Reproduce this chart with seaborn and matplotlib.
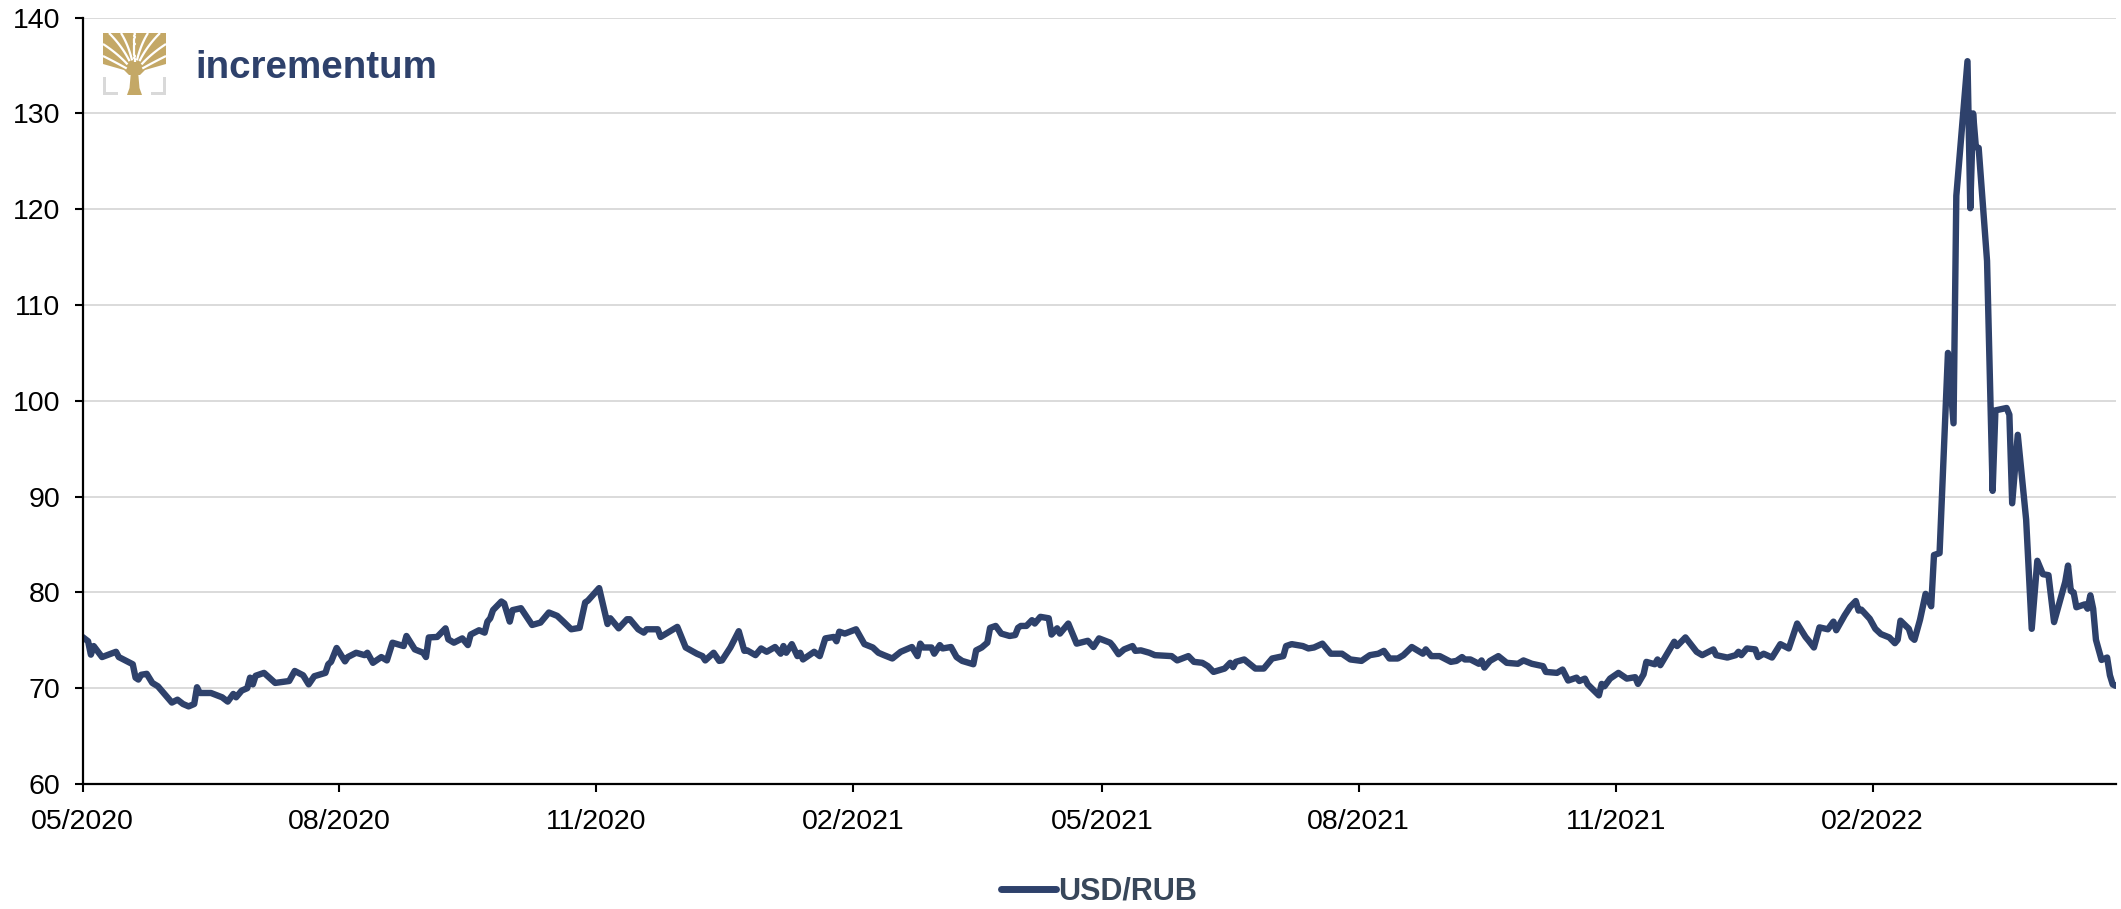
import numpy as np
import pandas as pd
import matplotlib
matplotlib.use("Agg")
import matplotlib.pyplot as plt
from matplotlib.lines import Line2D
from matplotlib.patches import Polygon, Rectangle
import seaborn as sns

# ---- data -------------------------------------------------------------
start_date = "2020-05-01"

# observation dates, as days after start_date
day_offset = [
    0, 2, 3, 4, 7, 12, 13, 18, 19, 20, 21, 23, 25, 27, 32, 34, 36, 38, 40, 41,
    42, 46, 50, 52, 54, 55, 57, 59, 60, 61, 62, 65, 69, 74, 76, 79, 81, 83, 87, 88,
    89, 91, 94, 95, 98, 101, 102, 104, 107, 109, 111, 115, 116, 119, 122, 123, 124, 127, 130, 131,
    133, 136, 138, 139, 142, 144, 145, 146, 147, 150, 151, 153, 154, 157, 161, 164, 167, 170, 172, 175,
    178, 180, 181, 185, 188, 189, 192, 195, 196, 199, 201, 202, 206, 207, 213, 216, 220, 222, 223, 226,
    228, 229, 232, 235, 237, 238, 241, 243, 245, 248, 250, 251, 252, 254, 256, 257, 258, 262, 264, 266,
    269, 270, 271, 273, 277, 280, 283, 285, 287, 290, 293, 297, 299, 300, 301, 304, 305, 307, 308, 311,
    313, 315, 319, 320, 322, 324, 325, 327, 329, 332, 334, 335, 336, 338, 340, 341, 343, 346, 347, 349,
    350, 353, 356, 360, 362, 364, 368, 369, 371, 373, 376, 377, 379, 382, 384, 390, 392, 396, 398, 401,
    403, 405, 409, 411, 412, 413, 416, 420, 423, 426, 430, 431, 433, 437, 439, 441, 444, 447, 451, 454,
    458, 461, 464, 466, 468, 471, 473, 476, 480, 481, 483, 486, 490, 492, 494, 495, 497, 500, 501, 502,
    504, 507, 510, 514, 516, 519, 523, 524, 528, 530, 532, 535, 536, 538, 539, 543, 544, 545, 547, 550,
    553, 556, 557, 559, 560, 563, 564, 565, 570, 571, 574, 578, 580, 584, 585, 589, 592, 593, 594, 596,
    599, 600, 602, 605, 608, 611, 614, 617, 618, 620, 622, 625, 627, 628, 631, 633, 635, 636, 637, 640,
    642, 644, 647, 649, 650, 651, 654, 655, 656, 658, 660, 662, 663, 665, 668, 670, 671, 675, 676, 677,
    678, 679, 682, 684, 685, 689, 690, 691, 693, 696, 698, 700, 702, 704, 706, 710, 711, 712, 713, 714,
    717, 718, 719, 720, 721, 723, 725, 726, 727, 728,
]

usd_rub = [
    75.35, 74.9, 73.5, 74.4, 73.25, 73.8, 73.25, 72.5, 71.1, 70.9, 71.4, 71.5, 70.55, 70.2, 68.5, 68.8, 68.35, 68.1, 68.35, 70.1,
    69.5, 69.5, 69.05, 68.6, 69.4, 69.05, 69.75, 70.0, 71.1, 70.4, 71.3, 71.6, 70.55, 70.75, 71.8, 71.35, 70.4, 71.25, 71.6, 72.5,
    72.75, 74.2, 72.8, 73.25, 73.7, 73.45, 73.7, 72.65, 73.25, 72.9, 74.75, 74.4, 75.45, 74.05, 73.7, 73.25, 75.3, 75.35, 76.25, 75.1,
    74.75, 75.2, 74.5, 75.6, 76.05, 75.8, 76.95, 77.3, 78.15, 79.05, 78.85, 76.95, 78.15, 78.35, 76.6, 76.85, 77.9, 77.55, 77.0, 76.15,
    76.3, 78.95, 79.15, 80.45, 76.7, 77.3, 76.25, 77.2, 77.2, 76.15, 75.8, 76.15, 76.15, 75.35, 76.4, 74.25, 73.6, 73.35, 72.9, 73.7,
    72.85, 72.9, 74.25, 75.95, 73.9, 73.95, 73.45, 74.15, 73.8, 74.3, 73.6, 74.4, 73.7, 74.6, 73.35, 73.7, 73.0, 73.8, 73.35, 75.2,
    75.35, 74.9, 75.9, 75.7, 76.15, 74.6, 74.25, 73.7, 73.45, 73.1, 73.8, 74.3, 73.35, 74.65, 74.25, 74.25, 73.6, 74.5, 74.15, 74.3,
    73.25, 72.85, 72.5, 73.95, 74.25, 74.75, 76.3, 76.5, 75.7, 75.45, 75.55, 76.3, 76.5, 76.5, 77.1, 76.75, 77.45, 77.3, 75.6, 76.25,
    75.7, 76.75, 74.65, 74.95, 74.3, 75.2, 74.75, 74.4, 73.55, 74.05, 74.4, 73.9, 73.95, 73.7, 73.45, 73.35, 72.9, 73.35, 72.75, 72.65,
    72.3, 71.7, 72.05, 72.65, 72.2, 72.75, 73.0, 72.05, 72.05, 73.1, 73.35, 74.4, 74.6, 74.4, 74.15, 74.25, 74.65, 73.6, 73.6, 73.0,
    72.85, 73.45, 73.6, 73.9, 73.1, 73.1, 73.45, 74.3, 73.6, 74.05, 73.35, 73.35, 72.75, 72.85, 73.25, 73.0, 73.0, 72.55, 72.9, 72.15,
    72.85, 73.35, 72.65, 72.55, 72.9, 72.55, 72.3, 71.7, 71.6, 71.95, 70.8, 71.1, 70.75, 71.0, 70.4, 69.25, 70.45, 70.2, 71.0, 71.6,
    71.0, 71.15, 70.45, 71.45, 72.75, 72.5, 73.0, 72.4, 74.85, 74.4, 75.3, 73.8, 73.45, 74.05, 73.45, 73.2, 73.45, 73.8, 73.45, 74.15,
    74.05, 73.25, 73.6, 73.2, 74.6, 74.15, 76.75, 75.35, 75.0, 74.25, 76.35, 76.15, 76.95, 76.05, 77.6, 78.5, 79.1, 78.1, 78.2, 77.25,
    76.2, 75.65, 75.3, 74.7, 75.05, 77.05, 76.2, 75.3, 75.05, 77.15, 79.85, 78.55, 83.9, 84.1, 105.0, 97.65, 121.4, 135.45, 120.1, 130.0,
    126.5, 126.4, 114.6, 90.6, 99.0, 99.25, 98.55, 89.3, 96.45, 87.6, 76.2, 83.3, 81.9, 81.8, 76.9, 81.1, 82.8, 80.15, 80.0, 78.45,
    78.75, 78.3, 79.7, 78.3, 75.05, 72.95, 73.2, 71.35, 70.4, 70.25,
]

x_tick_dates = ["2020-05-01", "2020-08-01", "2020-11-01", "2021-02-01", "2021-05-01",
                "2021-08-01", "2021-11-01", "2022-02-01"]
y_ticks = [60, 70, 80, 90, 100, 110, 120, 130, 140]
series_name = "USD/RUB"
brand_name = "incrementum"

# ---- style ------------------------------------------------------------
LINE_COLOR = "#2e416b"
BRAND_COLOR = "#2e416b"
LEGEND_TEXT = "#38475a"
GOLD = "#c4a866"
BRACKET_GREY = "#d9d9d9"
GRID_GREY = "#d4d4d4"

sns.set_theme(style="white")
plt.rcParams["font.family"] = ["Liberation Sans", "DejaVu Sans"]

W, H = 2121, 909
fig = plt.figure(figsize=(W / 100, H / 100), dpi=100)
fig.patch.set_facecolor("white")

ax_left, ax_right, ax_top, ax_bottom = 82.5, 2115.5, 17.6, 784.0
ax = fig.add_axes([ax_left / W, 1 - ax_bottom / H,
                   (ax_right - ax_left) / W, (ax_bottom - ax_top) / H])

dates = pd.Timestamp(start_date) + pd.to_timedelta(day_offset, unit="D")
df = pd.DataFrame({"date": dates, series_name: usd_rub})

sns.lineplot(data=df, x="date", y=series_name, ax=ax, color=LINE_COLOR,
             linewidth=4.6, legend=False, solid_joinstyle="round",
             solid_capstyle="round")

ax.set_xlim(dates[0], dates[-1])
ax.set_ylim(y_ticks[0], y_ticks[-1])
ax.set_yticks(y_ticks)
xt = pd.to_datetime(x_tick_dates)
ax.set_xticks(xt)
ax.set_xticklabels([d.strftime("%m/%Y") for d in xt])
ax.set_xlabel("")
ax.set_ylabel("")

ax.grid(axis="y", color=GRID_GREY, linewidth=1.2)
ax.grid(axis="x", visible=False)
ax.set_axisbelow(True)
for side in ("top", "right"):
    ax.spines[side].set_visible(False)
for side in ("left", "bottom"):
    ax.spines[side].set_color("#000000")
    ax.spines[side].set_linewidth(1.6)
ax.tick_params(axis="both", which="major", direction="out", length=5.8, width=1.5,
               color="#000000", labelsize=20.5, labelcolor="#000000", bottom=True, left=True)
ax.tick_params(axis="y", pad=10)
ax.tick_params(axis="x", pad=12)

# ---- legend -----------------------------------------------------------
handle = Line2D([0], [0], color=LINE_COLOR, linewidth=5, solid_capstyle="round")
leg = fig.legend([handle], [series_name], loc="center",
                 bbox_to_anchor=((ax_left + ax_right) / 2 / W, 1 - 892 / H),
                 frameon=False, handlelength=1.8, handletextpad=0.05,
                 prop={"size": 22, "weight": "bold"})
for t in leg.get_texts():
    t.set_color(LEGEND_TEXT)

# ---- brand mark -------------------------------------------------------
icon = fig.add_axes([103 / W, 1 - 95 / H, 63 / W, 62 / H])
icon.set_xlim(0, 63)
icon.set_ylim(62, 0)
icon.axis("off")
icon.patch.set_alpha(0)

canopy = Polygon([(0, 0), (63, 0), (63, 31), (42, 37), (37, 42), (26, 42),
                  (21, 37), (0, 31)], closed=True, color=GOLD, lw=0)
icon.add_patch(canopy)
icon.add_patch(Polygon([(28, 38), (35, 38), (36.5, 55), (39, 62), (24, 62),
                        (26.5, 55)], closed=True, color=GOLD, lw=0))

# white gaps between the branches
base = np.array([31.5, 40.0])
for end, ctrl in [((6, 0), (24, 18)), ((18, 0), (28, 16)), ((45, 0), (35, 16)),
                  ((57, 0), (39, 18)), ((0, 11), (20, 24)), ((63, 11), (43, 24)),
                  ((0, 23), (18, 32)), ((63, 23), (45, 32)), ((31.5, 0), (31.5, 20))]:
    t = np.linspace(0, 1, 30)[:, None]
    p = (1 - t) ** 2 * base + 2 * (1 - t) * t * np.array(ctrl) + t ** 2 * np.array(end)
    icon.plot(p[8:, 0], p[8:, 1], color="white", lw=1.6, solid_capstyle="butt")

icon.add_patch(Rectangle((0, 44), 3.3, 18, color=BRACKET_GREY, lw=0))
icon.add_patch(Rectangle((0, 58.5), 15, 3.5, color=BRACKET_GREY, lw=0))
icon.add_patch(Rectangle((59.7, 44), 3.3, 18, color=BRACKET_GREY, lw=0))
icon.add_patch(Rectangle((48, 58.5), 15, 3.5, color=BRACKET_GREY, lw=0))

fig.text(195 / W, 1 - 78.3 / H, brand_name, color=BRAND_COLOR, fontsize=27.7,
         fontweight="bold", ha="left", va="baseline")

fig.savefig("out.png", dpi=100, facecolor="white")
